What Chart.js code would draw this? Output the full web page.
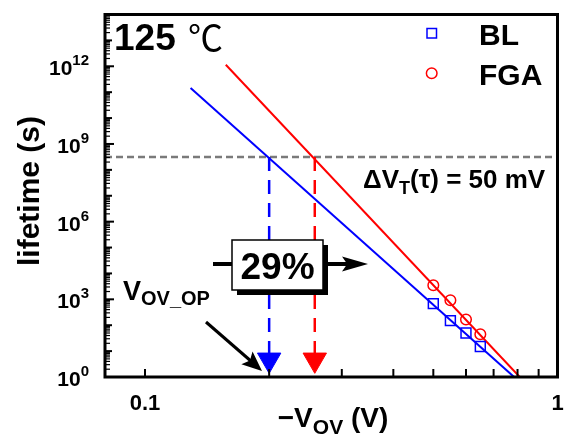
<!DOCTYPE html>
<html>
<head>
<meta charset="utf-8">
<title>Lifetime vs overdrive</title>
<script src="https://cdn.jsdelivr.net/npm/chart.js@4.4.1/dist/chart.umd.min.js"></script>
<style>
  html, body { margin: 0; padding: 0; background: #fff; }
  #wrap { width: 572px; height: 437px; }
</style>
</head>
<body>
<div id="wrap"><canvas id="lifetimeChart" width="572" height="437"></canvas></div>
<script>
// measured lifetimes at 125 C (-V_OV in V, lifetime in s)
const blVov = [0.50, 0.55, 0.60, 0.65];
const blLife = [680, 150, 50, 15];
const fgaVov = [0.50, 0.55, 0.60, 0.65];
const fgaLife = [3500, 920, 167, 45];

// power-law fit lines (end points)
const blFitVov = [0.129, 0.785];
const blFitLife = [1.45e11, 1];
const fgaFitVov = [0.157, 0.81];
const fgaFitLife = [1.15e12, 1];

// dVT = 50 mV lifetime criterion and the overdrive each device reaches it at
const critLife = 3.16e8;
const opVov = [0.2, 0.258];
const markerLife = 4.6;

// axes
const xMin = 0.08, xMax = 1;
const yMin = 1, yMax = 1e14;
const xTickLabels = [0.1, 1];
const xTicks = [0.1, 0.2, 0.3, 0.4, 0.5, 0.6, 0.7, 0.8, 0.9];
const yLabelExps = [0, 3, 6, 9, 12];

const FONT = '"Liberation Sans", Arial, Helvetica, sans-serif';
const BLUE = '#0000ff';
const RED = '#ff0000';
const GREY = '#7a7a7a';

function xy(xs, ys) {
  return xs.map((x, i) => ({ x: x, y: ys[i] }));
}

// text made of pieces (normal / sub / sup), laid out left to right
function drawRuns(ctx, runs, x, y, align) {
  let total = 0;
  runs.forEach(r => {
    ctx.font = r.font;
    r.w = ctx.measureText(r.text).width;
    total += r.w;
  });
  let cx = align === 'right' ? x - total : align === 'center' ? x - total / 2 : x;
  ctx.textAlign = 'left';
  runs.forEach(r => {
    ctx.font = r.font;
    ctx.fillText(r.text, cx, y + (r.dy || 0));
    cx += r.w;
  });
}

function arrowHead(ctx, fx, fy, tx, ty, len, half) {
  const a = Math.atan2(ty - fy, tx - fx);
  ctx.save();
  ctx.translate(tx, ty);
  ctx.rotate(a);
  ctx.beginPath();
  ctx.moveTo(0, 0);
  ctx.lineTo(-len, -half);
  ctx.lineTo(-len * 0.8, 0);
  ctx.lineTo(-len, half);
  ctx.closePath();
  ctx.fill();
  ctx.restore();
}

// frame, inward ticks, tick labels, titles and the annotations
const decorPlugin = {
  id: 'decor',
  afterDatasetsDraw(chart) {
    const { ctx, chartArea: a, scales: { x, y } } = chart;
    ctx.save();
    ctx.fillStyle = '#000';
    ctx.strokeStyle = '#000';
    ctx.textBaseline = 'alphabetic';

    // "29%" shift arrow with shadowed box
    ctx.lineWidth = 4;
    ctx.beginPath();
    ctx.moveTo(213, 264);
    ctx.lineTo(350, 264);
    ctx.stroke();
    arrowHead(ctx, 213, 264, 368, 264, 26, 7.5);
    ctx.fillRect(237, 245, 91, 50);
    ctx.fillStyle = '#fff';
    ctx.fillRect(232, 240, 91, 50);
    ctx.lineWidth = 1.5;
    ctx.strokeRect(232, 240, 91, 50);
    ctx.fillStyle = '#000';
    ctx.font = 'bold 37px ' + FONT;
    ctx.textAlign = 'center';
    ctx.fillText('29%', 277.5, 279);

    // V_OV_OP pointer
    drawRuns(ctx, [
      { text: 'V', font: 'bold 27px ' + FONT },
      { text: 'OV_OP', font: 'bold 20px ' + FONT, dy: 5 }
    ], 123, 300, 'left');
    ctx.lineWidth = 3;
    ctx.beginPath();
    ctx.moveTo(206, 322);
    ctx.lineTo(252, 362);
    ctx.stroke();
    arrowHead(ctx, 206, 322, 262, 371, 20, 8.5);

    // temperature
    ctx.textAlign = 'left';
    ctx.font = 'bold 37px ' + FONT;
    ctx.fillText('125', 114, 50);
    ctx.font = '35px "Noto Sans CJK SC", "DejaVu Sans", sans-serif';
    ctx.fillText('\u2103', 188, 51);

    // legend
    ctx.lineWidth = 1.5;
    ctx.strokeStyle = BLUE;
    ctx.strokeRect(427, 28.5, 9.5, 9.5);
    ctx.strokeStyle = RED;
    ctx.beginPath();
    ctx.arc(431.7, 73.3, 5.3, 0, Math.PI * 2);
    ctx.stroke();
    ctx.font = 'bold 30px ' + FONT;
    ctx.fillText('BL', 479, 45);
    ctx.fillText('FGA', 479, 85);

    // criterion label
    drawRuns(ctx, [
      { text: '\u0394V', font: 'bold 26px ' + FONT },
      { text: 'T', font: 'bold 18px ' + FONT, dy: 6 },
      { text: '(\u03c4) = 50 mV', font: 'bold 26px ' + FONT }
    ], 363, 188, 'left');

    // frame
    ctx.strokeStyle = '#000';
    ctx.lineWidth = 3;
    ctx.strokeRect(a.left, a.top, a.right - a.left, a.bottom - a.top);

    // y ticks: long every 3 decades, medium each decade, short minors
    for (let e = 0; e < 14; e++) {
      for (let m = 1; m < 10; m++) {
        const py = y.getPixelForValue(m * Math.pow(10, e));
        let len, w;
        if (m > 1) { len = 5; w = 1.2; }
        else if (e % 3 === 0) { len = 9; w = 2; }
        else { len = 7; w = 2; }
        ctx.lineWidth = w;
        ctx.beginPath();
        ctx.moveTo(a.left, py);
        ctx.lineTo(a.left + len, py);
        ctx.stroke();
      }
    }
    // x ticks
    ctx.lineWidth = 2;
    xTicks.forEach(v => {
      const px = x.getPixelForValue(v);
      ctx.beginPath();
      ctx.moveTo(px, a.bottom);
      ctx.lineTo(px, a.bottom - 8);
      ctx.stroke();
    });

    // tick labels
    yLabelExps.forEach(e => {
      const py = y.getPixelForValue(Math.pow(10, e));
      drawRuns(ctx, [
        { text: '10', font: 'bold 21px ' + FONT },
        { text: String(e), font: 'bold 15px ' + FONT, dy: -10 }
      ], 89, py + 9, 'right');
    });
    ctx.font = 'bold 22px ' + FONT;
    ctx.textAlign = 'center';
    xTickLabels.forEach(v => {
      ctx.fillText(String(v), x.getPixelForValue(v), 410);
    });

    // axis titles
    drawRuns(ctx, [
      { text: '\u2212V', font: 'bold 28px ' + FONT },
      { text: 'OV', font: 'bold 21px ' + FONT, dy: 7 },
      { text: ' (V)', font: 'bold 28px ' + FONT }
    ], 333, 427, 'center');
    ctx.save();
    ctx.translate(39, 191);
    ctx.rotate(-Math.PI / 2);
    ctx.font = 'bold 30px ' + FONT;
    ctx.textAlign = 'center';
    ctx.fillText('lifetime (s)', 0, 0);
    ctx.restore();

    ctx.restore();
  }
};

new Chart(document.getElementById('lifetimeChart'), {
  type: 'scatter',
  data: {
    datasets: [
      {
        label: 'BL V_OP',
        data: xy([opVov[0]], [markerLife]),
        pointStyle: 'triangle', rotation: 180, pointRadius: 13.5,
        backgroundColor: BLUE, borderColor: BLUE, borderWidth: 1
      },
      {
        label: 'FGA V_OP',
        data: xy([opVov[1]], [markerLife]),
        pointStyle: 'triangle', rotation: 180, pointRadius: 13.5,
        backgroundColor: RED, borderColor: RED, borderWidth: 1
      },
      {
        label: 'BL',
        data: xy(blVov, blLife),
        pointStyle: 'rect', pointRadius: 7,
        borderColor: BLUE, borderWidth: 1.5, backgroundColor: 'rgba(0,0,0,0)'
      },
      {
        label: 'FGA',
        data: xy(fgaVov, fgaLife),
        pointStyle: 'circle', pointRadius: 5.3,
        borderColor: RED, borderWidth: 1.5, backgroundColor: 'rgba(0,0,0,0)'
      },
      {
        label: 'BL fit',
        data: xy(blFitVov, blFitLife),
        showLine: true, pointRadius: 0, borderColor: BLUE, borderWidth: 2
      },
      {
        label: 'FGA fit',
        data: xy(fgaFitVov, fgaFitLife),
        showLine: true, pointRadius: 0, borderColor: RED, borderWidth: 2
      },
      {
        label: 'BL drop',
        data: xy([opVov[0], opVov[0]], [critLife, markerLife]),
        showLine: true, pointRadius: 0, borderColor: BLUE, borderWidth: 2.5, borderDash: [14, 9]
      },
      {
        label: 'FGA drop',
        data: xy([opVov[1], opVov[1]], [critLife, markerLife]),
        showLine: true, pointRadius: 0, borderColor: RED, borderWidth: 2.5, borderDash: [14, 9]
      },
      {
        label: 'criterion',
        data: xy([xMin, xMax], [critLife, critLife]),
        showLine: true, pointRadius: 0, borderColor: GREY, borderWidth: 2.5, borderDash: [7, 4]
      }
    ]
  },
  options: {
    responsive: false,
    animation: false,
    events: [],
    layout: { padding: { left: 105, right: 10, top: 7, bottom: 60 } },
    scales: {
      x: { type: 'logarithmic', min: xMin, max: xMax, display: false },
      y: { type: 'logarithmic', min: yMin, max: yMax, display: false }
    },
    plugins: {
      legend: { display: false },
      tooltip: { enabled: false }
    }
  },
  plugins: [decorPlugin]
});
</script>
</body>
</html>
